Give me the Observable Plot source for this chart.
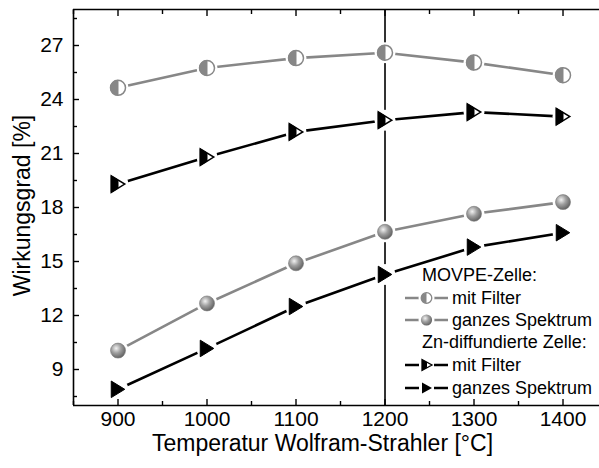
<!DOCTYPE html>
<html><head><meta charset="utf-8">
<script src="https://cdn.jsdelivr.net/npm/d3@7"></script>
<script src="https://cdn.jsdelivr.net/npm/@observablehq/plot@0.6"></script>
<style>
body{margin:0;background:#fff;font-family:"Liberation Sans",Arial,sans-serif}
#wrap{position:relative;width:599px;height:468px;overflow:hidden}
#legend{position:absolute;left:0;top:0;font-size:18px;color:#000}
.row{position:absolute;white-space:nowrap;line-height:20px}
.row svg{position:absolute;left:0;top:0}
</style></head><body><div id="wrap"></div>
<script>
// ---- data ----
const temps = [900, 1000, 1100, 1200, 1300, 1400];
const movpeFilter   = [24.65, 25.75, 26.3, 26.6, 26.05, 25.35];
const movpeFull     = [10.05, 12.67, 14.9, 16.65, 17.65, 18.3];
const znFilter      = [19.3, 20.8, 22.2, 22.85, 23.3, 23.05];
const znFull        = [7.9, 10.17, 12.5, 14.28, 15.8, 16.6];
const xTicks = [900, 1000, 1100, 1200, 1300, 1400];
const xMinor = [850, 950, 1050, 1150, 1250, 1350, 1450];
const yTicks = [9, 12, 15, 18, 21, 24, 27];
const yMinor = [7.5, 10.5, 13.5, 16.5, 19.5, 22.5, 25.5, 28.5];
const xDomain = [850, 1441];
const yDomain = [7, 29];
const markerLine = [1200];
const xTitle = "Temperatur Wolfram-Strahler [°C]";
const yTitle = "Wirkungsgrad [%]";
const legendHeads = ["MOVPE-Zelle:", "Zn-diffundierte Zelle:"];
const legendLabels = ["mit Filter", "ganzes Spektrum"];

const GRAY = "#878787";
const series = [
  {key: "mf", vals: movpeFilter},
  {key: "mg", vals: movpeFull},
  {key: "zf", vals: znFilter},
  {key: "zg", vals: znFull}
];
const rows = series.flatMap(s => temps.map((t, i) => ({x: t, y: s.vals[i], key: s.key})));
const of = k => rows.filter(d => d.key === k);

// ---- symbols ----
const halfCircle = {draw(ctx, size){const r=Math.sqrt(size/Math.PI); ctx.moveTo(0,-r); ctx.arc(0,0,r,-Math.PI/2,Math.PI/2,true); ctx.closePath();}};
const triFull = {draw(ctx, size){const r=Math.sqrt(size/Math.PI); const w=r*0.9,h=r*1.1; ctx.moveTo(-w,-h); ctx.lineTo(w,0); ctx.lineTo(-w,h); ctx.closePath();}};
const triHalf = {draw(ctx, size){const r=Math.sqrt(size/Math.PI); const w=r*0.9,h=r*1.1; ctx.moveTo(-w,-h); ctx.lineTo(0,-h/2); ctx.lineTo(0,h/2); ctx.lineTo(-w,h); ctx.closePath();}};

const R = 7.5;
const font = "Liberation Sans, Arial, sans-serif";
const fmt = d => String(d);

const plot = Plot.plot({
  width: 599, height: 468,
  marginLeft: 73, marginRight: 0, marginTop: 9, marginBottom: 63,
  style: {fontFamily: font, color: "#000", background: "#fff"},
  x: {domain: xDomain},
  y: {domain: yDomain},
  marks: [
    Plot.ruleX(markerLine, {stroke: "#000", strokeWidth: 1.6}),
    Plot.line(of("mf"), {x: "x", y: "y", stroke: GRAY, strokeWidth: 2.6}),
    Plot.line(of("mg"), {x: "x", y: "y", stroke: GRAY, strokeWidth: 2.6}),
    Plot.line(of("zf"), {x: "x", y: "y", stroke: "#000", strokeWidth: 2.6}),
    Plot.line(of("zg"), {x: "x", y: "y", stroke: "#000", strokeWidth: 2.6}),
    Plot.dot(rows, {x: "x", y: "y", r: R + 3, fill: "white", stroke: "none"}),
    Plot.dot(of("mf"), {x: "x", y: "y", r: R, fill: "white", stroke: GRAY, strokeWidth: 1.5}),
    Plot.dot(of("mf"), {x: "x", y: "y", r: R, symbol: halfCircle, fill: GRAY, stroke: GRAY, strokeWidth: 1}),
    Plot.dot(of("mg"), {x: "x", y: "y", r: R, fill: "url(#sph)", stroke: "#777", strokeWidth: 0.6}),
    Plot.dot(of("zf"), {x: "x", y: "y", r: R, symbol: triFull, fill: "white", stroke: "#000", strokeWidth: 1.5}),
    Plot.dot(of("zf"), {x: "x", y: "y", r: R, symbol: triHalf, fill: "#000", stroke: "#000", strokeWidth: 1}),
    Plot.dot(of("zg"), {x: "x", y: "y", r: R, symbol: triFull, fill: "#000", stroke: "#000", strokeWidth: 1}),
    Plot.ruleX([xDomain[0]], {stroke: "#000", strokeWidth: 1.6}),
    Plot.ruleY([yDomain[0]], {stroke: "#000", strokeWidth: 1.6}),
    Plot.ruleY([yDomain[1]], {stroke: "#000", strokeWidth: 1.6}),
    Plot.axisX(xTicks, {anchor: "bottom", tickSize: -6, tickPadding: 12, fontSize: 21, strokeWidth: 1.4, tickFormat: fmt, label: null}),
    Plot.axisX(xMinor, {anchor: "bottom", tickSize: -4, tickFormat: () => "", label: null, strokeWidth: 1.4}),
    Plot.axisX(xTicks, {anchor: "top", tickSize: -6, tickFormat: () => "", label: null, strokeWidth: 1.4}),
    Plot.axisX(xMinor, {anchor: "top", tickSize: -4, tickFormat: () => "", label: null, strokeWidth: 1.4}),
    Plot.axisY(yTicks, {anchor: "left", tickSize: -6, tickPadding: 16, fontSize: 21, strokeWidth: 1.4, tickFormat: fmt, label: null}),
    Plot.axisY(yMinor, {anchor: "left", tickSize: -4, tickFormat: () => "", label: null, strokeWidth: 1.4}),
    Plot.text([xTitle], {text: d => d, frameAnchor: "bottom", dx: -14, dy: 38, fontSize: 23, lineAnchor: "middle"}),
    Plot.text([yTitle], {text: d => d, frameAnchor: "left", dx: -51, dy: -2, rotate: -90, fontSize: 23, textAnchor: "middle", lineAnchor: "middle"})
  ]
});
d3.select(plot).insert("defs", ":first-child").html(
  '<radialGradient id="sph" cx="0.38" cy="0.35" r="0.7"><stop offset="0" stop-color="#f2f2f2"/><stop offset="0.45" stop-color="#a0a0a0"/><stop offset="1" stop-color="#5c5c5c"/></radialGradient>');
const wrap = document.getElementById("wrap");
wrap.appendChild(plot);

// ---- legend (HTML overlay) ----
const leg = document.createElement("div");
leg.id = "legend";
wrap.appendChild(leg);
const sym = {
  mf: `<line x1="0" y1="10" x2="43" y2="10" stroke="${GRAY}" stroke-width="2.6"/><circle cx="21.5" cy="10" r="8" fill="white"/><circle cx="21.5" cy="10" r="5.3" fill="white" stroke="${GRAY}" stroke-width="1.3"/><path d="M21.5,4.7 A5.3,5.3 0 0 0 21.5,15.3 Z" fill="${GRAY}"/>`,
  mg: `<line x1="0" y1="10" x2="43" y2="10" stroke="${GRAY}" stroke-width="2.6"/><circle cx="21.5" cy="10" r="8" fill="white"/><circle cx="21.5" cy="10" r="5.6" fill="url(#sph)"/>`,
  zf: `<line x1="0" y1="10" x2="43" y2="10" stroke="#000" stroke-width="2.6"/><rect x="14" y="2" width="15" height="16" fill="white"/><path d="M17,4.5 L27,10 L17,15.5 Z" fill="white" stroke="#000" stroke-width="1.3"/><path d="M17,4.5 L22,7.25 L22,12.75 L17,15.5 Z" fill="#000"/>`,
  zg: `<line x1="0" y1="10" x2="43" y2="10" stroke="#000" stroke-width="2.6"/><rect x="14" y="2" width="15" height="16" fill="white"/><path d="M17,4.5 L27,10 L17,15.5 Z" fill="#000"/>`
};
const items = [
  {head: legendHeads[0], y: 265, x: 422},
  {key: "mf", text: legendLabels[0], y: 288},
  {key: "mg", text: legendLabels[1], y: 310},
  {head: legendHeads[1], y: 332, x: 422},
  {key: "zf", text: legendLabels[0], y: 355},
  {key: "zg", text: legendLabels[1], y: 378}
];
items.forEach(it => {
  const d = document.createElement("div");
  d.className = "row";
  d.style.top = it.y + "px";
  if (it.head) { d.style.left = it.x + "px"; d.textContent = it.head; }
  else {
    d.style.left = "405px";
    d.innerHTML = `<svg width="44" height="20">${sym[it.key]}</svg><span style="position:absolute;left:47px;top:0">${it.text}</span>`;
  }
  leg.appendChild(d);
});
</script></body></html>
